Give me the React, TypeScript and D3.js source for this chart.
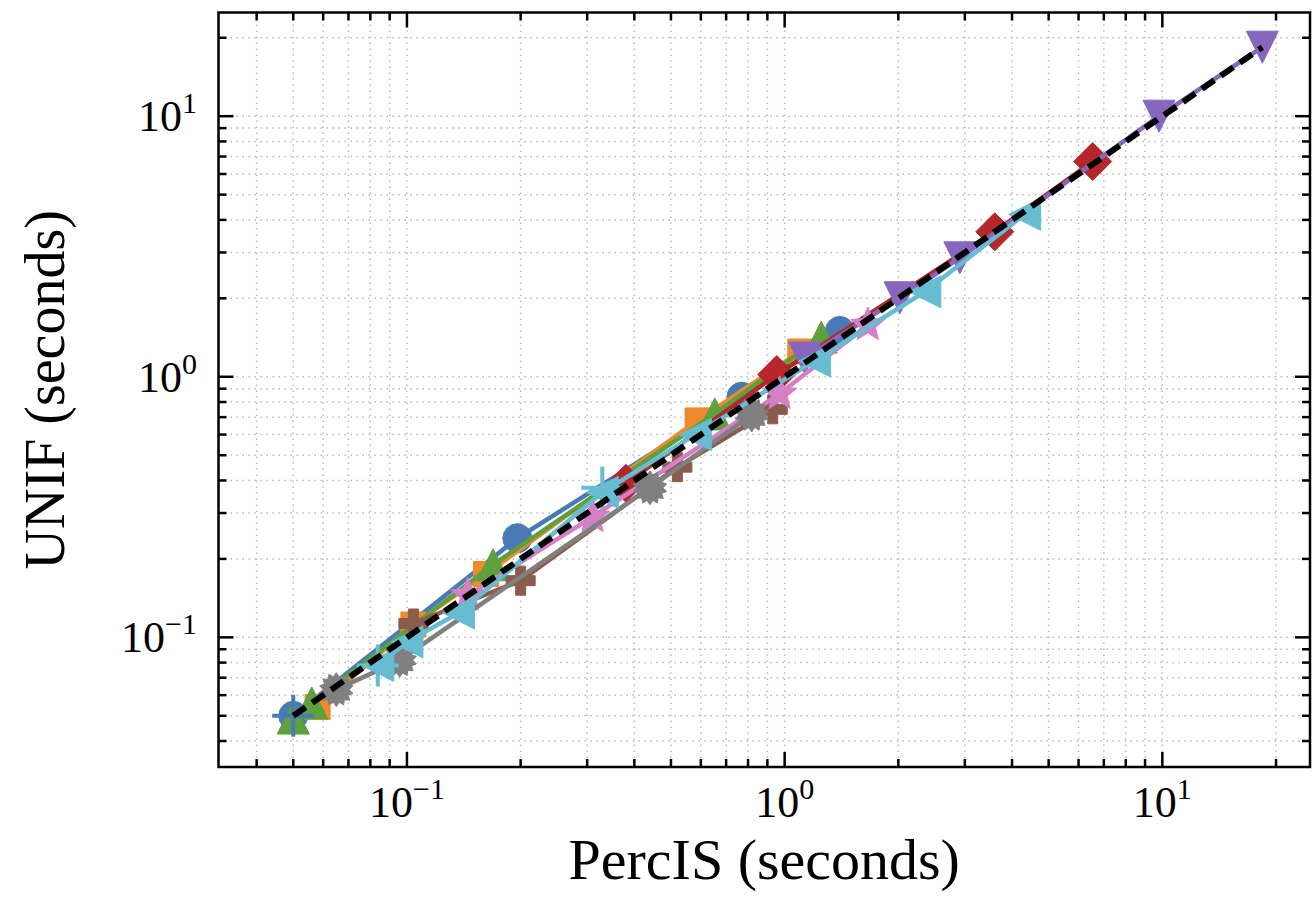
import React, { useRef, useEffect } from "react";
import { select, scaleLog, line } from "d3";

// axis ticks (log scale, both axes share them)
const majorTicks = [0.1, 1, 10];
const majorExponents = ["\u22121", "0", "1"];
const minorTicks = [
  0.04, 0.05, 0.06, 0.07, 0.08, 0.09,
  0.2, 0.3, 0.4, 0.5, 0.6, 0.7, 0.8, 0.9,
  2, 3, 4, 5, 6, 7, 8, 9, 20,
];
const xDomain = [0.0317, 24.6];
const yDomain = [0.0318, 25];

// run times: PercIS (x) vs UNIF (y), seconds
const blueX = [0.05, 0.196, 0.769, 1.4];
const blueY = [0.05, 0.24, 0.838, 1.5];
const orangeX = [0.058, 0.104, 0.162, 0.588, 1.1];
const orangeY = [0.054, 0.112, 0.175, 0.68, 1.25];
const greenX = [0.05, 0.056, 0.169, 0.653, 1.25];
const greenY = [0.049, 0.056, 0.19, 0.72, 1.42];
const redX = [0.38, 0.953, 3.6, 6.54];
const redY = [0.39, 1.02, 3.6, 6.7];
const purpleX = [1.13, 2.02, 2.91, 9.8, 18.4];
const purpleY = [1.18, 2.01, 2.86, 10.0, 18.4];
const brownX = [0.104, 0.2, 0.52, 0.93];
const brownY = [0.113, 0.165, 0.45, 0.75];
const pinkX = [0.145, 0.31, 0.97, 1.66];
const pinkY = [0.145, 0.29, 0.86, 1.58];
const grayX = [0.065, 0.0957, 0.44, 0.818];
const grayY = [0.063, 0.0817, 0.375, 0.714];
const cyanX = [0.0837, 0.1, 0.137, 0.329, 0.58, 1.2, 2.35, 4.32];
const cyanY = [0.078, 0.096, 0.124, 0.36, 0.6, 1.15, 2.12, 4.2];
const crossBlueX = [0.05];
const crossBlueY = [0.05];
const crossCyanX = [0.0837, 0.329];
const crossCyanY = [0.078, 0.375];
const diagonal = [0.05, 18.4];

const series = [
  { x: blueX, y: blueY, color: "#4a7ab6", marker: "o" },
  { x: orangeX, y: orangeY, color: "#ec8a2e", marker: "s" },
  { x: greenX, y: greenY, color: "#5ea03c", marker: "^" },
  { x: redX, y: redY, color: "#b5272b", marker: "D" },
  { x: purpleX, y: purpleY, color: "#8767bd", marker: "v" },
  { x: brownX, y: brownY, color: "#8b5b4e", marker: "P" },
  { x: pinkX, y: pinkY, color: "#d67ec6", marker: "*" },
  { x: grayX, y: grayY, color: "#808080", marker: "gear" },
  { x: cyanX, y: cyanY, color: "#66bcd0", marker: "<" },
];
const crosses = [
  { x: crossBlueX, y: crossBlueY, color: "#4a7ab6" },
  { x: crossCyanX, y: crossCyanY, color: "#66bcd0" },
];

const W = 1312;
const H = 897;
const left = 218.5, right = 1310, top = 12.5, bottom = 767;
const FONT = "'Liberation Serif', 'Times New Roman', serif";

function starPath(n, outer, inner) {
  let d = "";
  for (let i = 0; i < n * 2; i++) {
    const r = i % 2 === 0 ? outer : inner;
    const a = (Math.PI * i) / n - Math.PI / 2;
    d += (i === 0 ? "M" : "L") + (r * Math.cos(a)).toFixed(2) + "," + (r * Math.sin(a)).toFixed(2);
  }
  return d + "Z";
}

function markerPath(m) {
  switch (m) {
    case "o":
      return "M-14.5,0A14.5,14.5 0 1,0 14.5,0A14.5,14.5 0 1,0 -14.5,0Z";
    case "s":
      return "M-12.5,-12.5H12.5V12.5H-12.5Z";
    case "^":
      return "M0,-16L16,16L-16,16Z";
    case "v":
      return "M0,16L16,-16L-16,-16Z";
    case "<":
      return "M-16,0L16,-16L16,16Z";
    case "D":
      return "M0,-19L19,0L0,19L-19,0Z";
    case "P":
      return "M-5,-14.5H5V-5H14.5V5H5V14.5H-5V5H-14.5V-5H-5Z";
    case "*":
      return starPath(5, 18, 8);
    default:
      return starPath(14, 17, 13);
  }
}

export default function App() {
  const svgRef = useRef(null);

  useEffect(() => {
    const svg = select(svgRef.current);
    svg.selectAll("*").remove();

    const x = scaleLog().domain(xDomain).range([left, right]);
    const y = scaleLog().domain(yDomain).range([bottom, top]);
    const allTicks = [...majorTicks, ...minorTicks];

    svg.append("rect").attr("width", W).attr("height", H).attr("fill", "#fff");

    svg.append("defs").append("clipPath").attr("id", "plotclip")
      .append("rect")
      .attr("x", left).attr("y", top)
      .attr("width", right - left).attr("height", bottom - top);

    // dotted grid at major and minor ticks
    const grid = svg.append("g")
      .attr("stroke", "#bababa")
      .attr("stroke-width", 1.5)
      .attr("stroke-dasharray", "1.5,4.5");
    grid.selectAll(".gx").data(allTicks).join("line")
      .attr("class", "gx")
      .attr("x1", d => x(d)).attr("x2", d => x(d))
      .attr("y1", top).attr("y2", bottom);
    grid.selectAll(".gy").data(allTicks).join("line")
      .attr("class", "gy")
      .attr("y1", d => y(d)).attr("y2", d => y(d))
      .attr("x1", left).attr("x2", right);

    const plot = svg.append("g").attr("clip-path", "url(#plotclip)");
    const path = line().x(d => x(d[0])).y(d => y(d[1]));

    series.forEach(s => {
      const pts = s.x.map((v, i) => [v, s.y[i]]);
      plot.append("path")
        .attr("d", path(pts))
        .attr("fill", "none")
        .attr("stroke", s.color)
        .attr("stroke-width", 4.5)
        .attr("stroke-linejoin", "round");
      plot.selectAll(null).data(pts).join("path")
        .attr("transform", d => `translate(${x(d[0])},${y(d[1])})`)
        .attr("d", markerPath(s.marker))
        .attr("fill", s.color)
        .attr("stroke", s.color)
        .attr("stroke-width", 1);
    });

    crosses.forEach(c => {
      const pts = c.x.map((v, i) => [v, c.y[i]]);
      plot.selectAll(null).data(pts).join("path")
        .attr("transform", d => `translate(${x(d[0])},${y(d[1])})`)
        .attr("d", "M-21,0H21M0,-21V21")
        .attr("fill", "none")
        .attr("stroke", c.color)
        .attr("stroke-width", 4);
    });

    // y = x reference
    plot.append("path")
      .attr("d", path(diagonal.map(v => [v, v])))
      .attr("fill", "none")
      .attr("stroke", "#000")
      .attr("stroke-width", 6)
      .attr("stroke-dasharray", "15,8");

    // inward ticks on all four sides
    const ticks = svg.append("g").attr("stroke", "#000").attr("stroke-width", 2.5);
    const tickSets = [
      { data: majorTicks, len: 15 },
      { data: minorTicks, len: 8 },
    ];
    tickSets.forEach(t => {
      t.data.forEach(v => {
        const px = x(v);
        const py = y(v);
        ticks.append("line").attr("x1", px).attr("x2", px).attr("y1", bottom).attr("y2", bottom - t.len);
        ticks.append("line").attr("x1", px).attr("x2", px).attr("y1", top).attr("y2", top + t.len);
        ticks.append("line").attr("y1", py).attr("y2", py).attr("x1", left).attr("x2", left + t.len);
        ticks.append("line").attr("y1", py).attr("y2", py).attr("x1", right).attr("x2", right - t.len);
      });
    });

    svg.append("rect")
      .attr("x", left).attr("y", top)
      .attr("width", right - left).attr("height", bottom - top)
      .attr("fill", "none").attr("stroke", "#000").attr("stroke-width", 2.5);

    // tick labels 10^k
    majorTicks.forEach((v, i) => {
      const tx = svg.append("text")
        .attr("x", x(v)).attr("y", 817)
        .attr("text-anchor", "middle")
        .attr("font-family", FONT).attr("font-size", 44);
      tx.append("tspan").text("10");
      tx.append("tspan").attr("dy", -18).attr("font-size", 30).text(majorExponents[i]);

      const ty = svg.append("text")
        .attr("x", 197).attr("y", y(v) + 15)
        .attr("text-anchor", "end")
        .attr("font-family", FONT).attr("font-size", 44);
      ty.append("tspan").text("10");
      ty.append("tspan").attr("dy", -18).attr("font-size", 30).text(majorExponents[i]);
    });

    svg.append("text")
      .attr("x", (left + right) / 2).attr("y", 879)
      .attr("text-anchor", "middle")
      .attr("font-family", FONT).attr("font-size", 58)
      .text("PercIS (seconds)");

    svg.append("text")
      .attr("transform", `translate(64,${(top + bottom) / 2}) rotate(-90)`)
      .attr("text-anchor", "middle")
      .attr("font-family", FONT).attr("font-size", 56)
      .text("UNIF (seconds)");
  }, []);

  return (
    <svg
      ref={svgRef}
      width={W}
      height={H}
      style={{ position: "absolute", left: 0, top: 0 }}
    />
  );
}
